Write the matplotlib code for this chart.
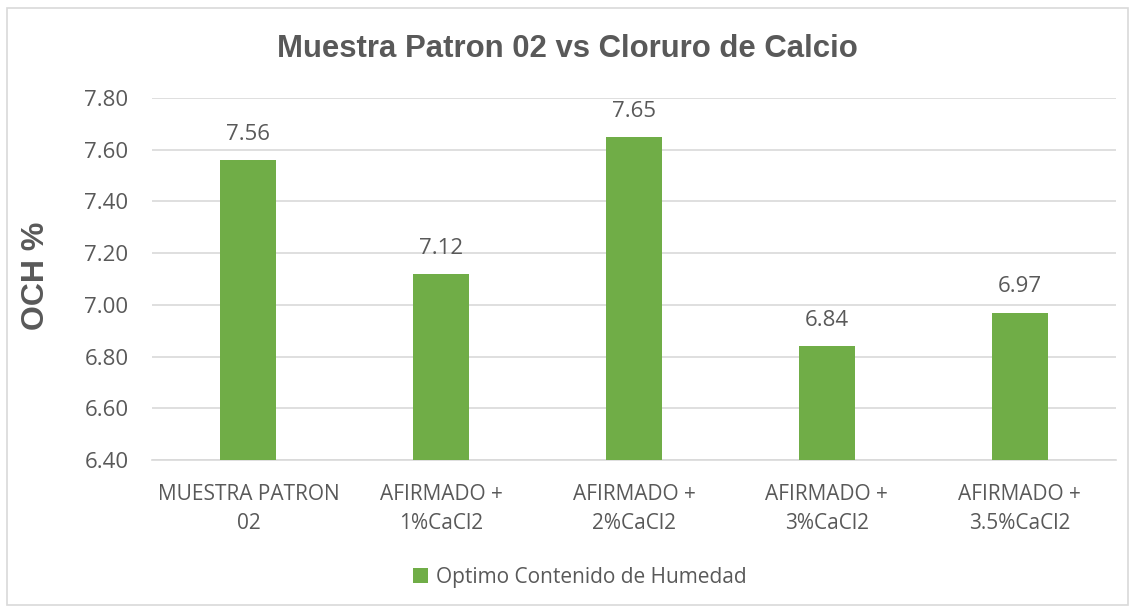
import matplotlib
matplotlib.use("Agg")
import matplotlib.pyplot as plt
from matplotlib.patches import Rectangle

categories = ["MUESTRA PATRON\n02", "AFIRMADO +\n1%CaCl2", "AFIRMADO +\n2%CaCl2",
              "AFIRMADO +\n3%CaCl2", "AFIRMADO +\n3.5%CaCl2"]
values = [7.56, 7.12, 7.65, 6.84, 6.97]
yticks = [6.40, 6.60, 6.80, 7.00, 7.20, 7.40, 7.60, 7.80]
series_name = "Optimo Contenido de Humedad"
title = "Muestra Patron 02 vs Cloruro de Calcio"
ylabel = "OCH %"

GREEN = "#70ad47"
TEXT = "#595959"
GRID = "#d9d9d9"
FONT = "Open Sans"

fig = plt.figure(figsize=(11.34, 6.10), dpi=100)
fig.patches.append(Rectangle((7/1134, 1-605/610), 1121/1134, 597/610, transform=fig.transFigure,
                             fill=False, edgecolor=GRID, linewidth=1.2))
ax = fig.add_axes([152/1134, 1-460/610, 964/1134, 362/610])

x = range(len(categories))
bars = ax.bar(x, values, width=0.29, color=GREEN, zorder=3, label=series_name)
ax.set_ylim(6.40, 7.80)
ax.set_xlim(-0.5, len(categories)-0.5)
ax.set_yticks(yticks)
ax.set_yticklabels([f"{v:.2f}" for v in yticks], fontsize=16, color=TEXT, family=FONT)
ax.set_xticks(list(x))
ax.set_xticklabels(categories, fontsize=15, color=TEXT, family=FONT, linespacing=1.5)
ax.tick_params(axis="both", length=0)
ax.tick_params(axis="y", pad=17)
ax.tick_params(axis="x", pad=17)
ax.grid(axis="y", color=GRID, linewidth=1.2, zorder=0)
for s in ["top", "right", "left"]:
    ax.spines[s].set_visible(False)
ax.spines["bottom"].set_color(GRID)
ax.spines["bottom"].set_linewidth(1.2)

for xi, v in zip(x, values):
    ax.annotate(f"{v:.2f}", (xi, v), xytext=(0, 11), textcoords="offset points",
                ha="center", va="bottom", fontsize=16, color=TEXT, family=FONT)

fig.text(567/1134, 1-49/610, title, ha="center", va="center", fontsize=22.4,
         fontweight="bold", color=TEXT, family="Liberation Sans")
fig.text(36/1134, 1-276/610, ylabel, ha="center", va="center", rotation=90,
         fontsize=23, fontweight="bold", color=TEXT, family="Liberation Sans")

leg = fig.legend(handles=[bars], labels=[series_name], loc="center",
                 bbox_to_anchor=(580/1134, 1-577/610), frameon=False,
                 prop={"family": FONT, "size": 15}, handlelength=0.7, handleheight=0.7,
                 handletextpad=0.4)
for t in leg.get_texts():
    t.set_color(TEXT)

fig.savefig("out.png", dpi=100)
